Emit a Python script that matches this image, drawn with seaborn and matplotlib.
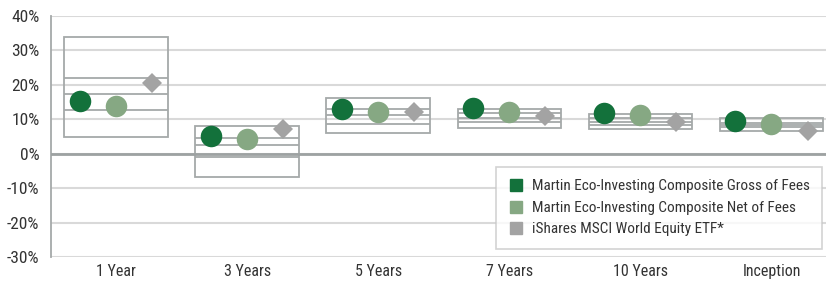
import matplotlib
matplotlib.use('Agg')
import matplotlib.pyplot as plt
import pandas as pd
import seaborn as sns
from matplotlib.lines import Line2D

# periods on the x axis
periods = ['1 Year', '3 Years', '5 Years', '7 Years', '10 Years', 'Inception']

# peer universe range (5th / 25th / median / 75th / 95th percentile), in %
p05 = [4.8, -6.8, 5.9, 7.5, 7.1, 6.6]
p25 = [12.7, -1.0, 8.7, 9.1, 8.3, 7.7]
p50 = [17.4, 2.5, 11.3, 10.5, 9.3, 8.3]
p75 = [21.9, 4.6, 12.9, 11.7, 10.3, 9.0]
p95 = [33.7, 8.0, 16.1, 12.9, 11.5, 10.3]

# annualised returns, in %
gross = [15.4, 5.2, 13.0, 13.4, 11.7, 9.6]
net = [13.8, 4.3, 12.2, 12.0, 11.2, 8.6]
etf = [20.4, 7.2, 12.1, 10.8, 9.3, 6.7]

series_names = ['Martin Eco-Investing Composite Gross of Fees',
                'Martin Eco-Investing Composite Net of Fees',
                'iShares MSCI World Equity ETF*']
colors = ['#13713b', '#86a883', '#a3a3a3']

df = pd.DataFrame({
    'period': periods * 3,
    'series': [series_names[0]] * 6 + [series_names[1]] * 6 + [series_names[2]] * 6,
    'value': gross + net + etf,
})

sns.set_style('white')
plt.rcParams['font.family'] = ['Roboto Condensed', 'Roboto', 'DejaVu Sans']

fig = plt.figure(figsize=(8.26, 2.83), dpi=100)
ax = fig.add_axes([50.5 / 826, 25.7 / 283, 786.5 / 826, 241.6 / 283])

box_color = '#a5a9a9'
x = list(range(len(periods)))

# outer range boxes
ax.bar(x, [t - b for t, b in zip(p95, p05)], bottom=p05, width=0.79,
       facecolor='none', edgecolor=box_color, linewidth=1.3, zorder=2)
# quartile lines
for q in (p25, p50, p75):
    ax.hlines(q, [i - 0.395 for i in x], [i + 0.395 for i in x],
              color=box_color, linewidth=1.3, zorder=2)

sns.pointplot(data=df, x='period', y='value', hue='series', order=periods,
              hue_order=series_names, palette=colors, markers=['o', 'o', 'D'],
              linestyles='none', dodge=0.55, errorbar=None, ax=ax,
              markersize=15.5, markeredgewidth=0, legend=False, zorder=4)
for ln in ax.lines:
    if ln.get_marker() == 'D':
        ln.set_markersize(10.5)

ax.set_ylim(-30, 40)
ax.set_xlim(-0.5, 5.5)
ax.set_yticks(range(-30, 41, 10))
ax.set_yticklabels([f'{v}%' for v in range(-30, 41, 10)])
ax.yaxis.grid(True, color='#d9d9d9', linewidth=1.5, zorder=0)
ax.axhline(0, color='#9da2a2', linewidth=2, zorder=3)
ax.set_axisbelow(True)
ax.tick_params(axis='both', length=0, colors='#333333')
ax.tick_params(axis='x', pad=5, labelsize=11.5)
ax.tick_params(axis='y', pad=8, labelsize=12.5)
ax.set_xlabel('')
ax.set_ylabel('')
for s in ('top', 'right', 'bottom'):
    ax.spines[s].set_visible(False)
ax.spines['left'].set_color('#a5a9a9')
ax.spines['left'].set_linewidth(1.3)

handles = [Line2D([], [], marker='s', linestyle='none', color=c, markersize=8)
           for c in colors]
leg = ax.legend(handles, series_names, loc='upper left',
                bbox_to_anchor=(496 / 826, 1 - 167 / 283), bbox_transform=fig.transFigure,
                borderaxespad=0, frameon=True, fancybox=False, fontsize=11.0,
                handletextpad=0.55, borderpad=0.8, labelspacing=0.5,
                handlelength=1.0, labelcolor='#333333')
leg.get_frame().set_edgecolor('#c8c8c8')
leg.get_frame().set_linewidth(1.2)
leg.set_zorder(5)

fig.savefig('out.png', dpi=100)
